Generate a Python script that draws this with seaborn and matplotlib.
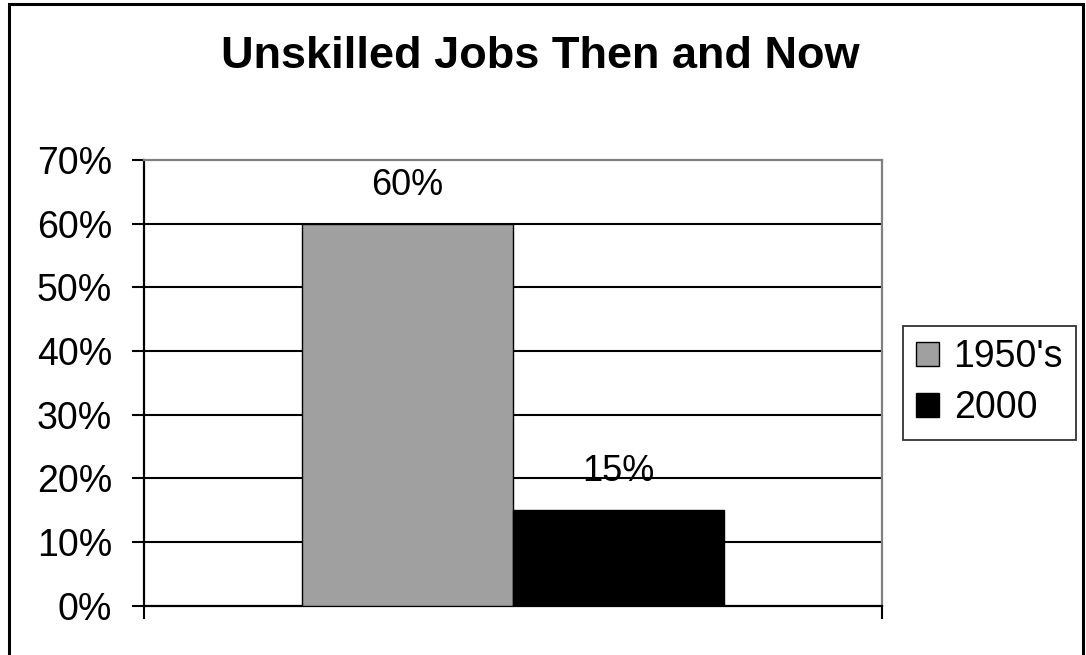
import matplotlib
matplotlib.use("Agg")
import matplotlib.pyplot as plt
from matplotlib.patches import Rectangle
from matplotlib.ticker import FuncFormatter
import pandas as pd
import seaborn as sns

# --------------------------
# Data
# --------------------------
periods = ["1950's", "2000"]
shares = [60, 15]
bar_colors = ["#A0A0A0", "#000000"]
y_ticks = [0, 10, 20, 30, 40, 50, 60, 70]
title = "Unskilled Jobs Then and Now"

df = pd.DataFrame({"group": ["jobs"] * len(periods), "period": periods, "share": shares})

# --------------------------
# Style
# --------------------------
sns.set_style("white")
plt.rcParams["font.family"] = ["Liberation Sans", "DejaVu Sans"]
plt.rcParams["text.color"] = "black"
plt.rcParams["xtick.color"] = "black"
plt.rcParams["ytick.color"] = "black"

W, H = 1086, 655
fig = plt.figure(figsize=(W / 100, H / 100), dpi=100)
ax = fig.add_axes([144 / W, 1 - 605.5 / H, 738 / W, 445.5 / H])

sns.barplot(data=df, x="group", y="share", hue="period", hue_order=periods,
            palette=bar_colors, width=0.572, saturation=1,
            edgecolor="black", linewidth=1, ax=ax, zorder=3)

for cont, v in zip(ax.containers, shares):
    ax.bar_label(cont, labels=[f"{v}%"], padding=15, fontsize=26,
                 color="black", zorder=4)

ax.set_xlim(-0.5, 0.5)
ax.set_ylim(0, 70)
ax.set_yticks(y_ticks)
ax.yaxis.set_major_formatter(FuncFormatter(lambda v, _: f"{v:.0f}%"))
ax.set_xticks([-0.5, 0.5])
ax.set_xticklabels(["", ""])
ax.set_xlabel("")
ax.set_ylabel("")
ax.tick_params(axis="y", labelsize=27, length=9, width=1.5, direction="out",
               left=True, pad=14, colors="black", labelcolor="black")
ax.tick_params(axis="x", length=9, width=1.5, direction="out", bottom=True,
               colors="black")

# gridlines (black, behind bars)
for y in y_ticks[1:-1]:
    ax.axhline(y, color="black", linewidth=1.5, zorder=1)

for side in ["left", "bottom"]:
    ax.spines[side].set_color("black")
    ax.spines[side].set_linewidth(1.6)
for side in ["top", "right"]:
    ax.spines[side].set_visible(True)
    ax.spines[side].set_color("#808080")
    ax.spines[side].set_linewidth(1.6)

# legend
leg = ax.legend(loc="center left", bbox_to_anchor=(903 / W, 1 - 383 / H),
                bbox_transform=fig.transFigure, fontsize=27, frameon=True,
                fancybox=False, handlelength=0.62, handleheight=0.62,
                handletextpad=0.38, labelspacing=0.4, borderpad=0.35,
                borderaxespad=0)
leg.get_frame().set_edgecolor("black")
leg.get_frame().set_linewidth(1.3)
for t in leg.get_texts():
    t.set_color("black")

fig.text(540 / W, 1 - 56 / H, title, ha="center", va="center",
         fontsize=32.5, fontweight="bold", color="black")

# outer chart border
fig.patches.append(Rectangle((9 / W, -0.01), (1083 - 9) / W, 1.01 - 4 / H,
                             transform=fig.transFigure, fill=False,
                             edgecolor="black", linewidth=2.2))

fig.savefig("out.png", dpi=100)
